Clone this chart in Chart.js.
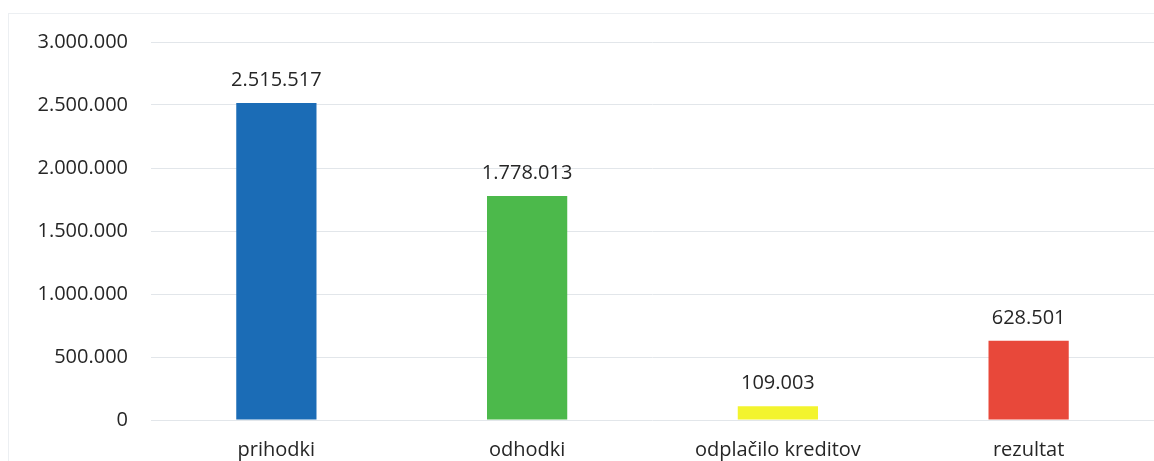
<!DOCTYPE html>
<html><head><meta charset="utf-8">
<script src="https://cdn.jsdelivr.net/npm/chart.js@4"></script>
<style>
html,body{margin:0;padding:0;background:#fff;}
#wrap{position:relative;width:1154px;height:461px;overflow:hidden;}
#frame{position:absolute;left:8px;top:13px;right:-2px;bottom:-2px;border-left:1px solid #eceff2;border-top:1px solid #eceff2;}
canvas{position:absolute;left:0;top:0;}
</style></head><body>
<div id="wrap"><div id="frame"></div><canvas id="c" width="1154" height="461"></canvas></div>
<script>
const categories = ["prihodki", "odhodki", "odplačilo kreditov", "rezultat"];
const values = [2515517, 1778013, 109003, 628501];
const barColors = ["#1b6cb6", "#4cb94b", "#f3f42e", "#e8483a"];
const tickValues = [0, 500000, 1000000, 1500000, 2000000, 2500000, 3000000];

function fmt(v){ return String(Math.round(v)).replace(/\B(?=(\d{3})+(?!\d))/g, "."); }

const FONT = '"Open Sans", sans-serif';
const labelPlugin = {
  id: 'valueLabels',
  afterDatasetsDraw(chart){
    const ctx = chart.ctx;
    const meta = chart.getDatasetMeta(0);
    ctx.save();
    ctx.font = '20px ' + FONT;
    ctx.fillStyle = '#262626';
    ctx.textAlign = 'center';
    ctx.textBaseline = 'alphabetic';
    meta.data.forEach((bar, i) => {
      ctx.fillText(fmt(values[i]), bar.x, bar.y - 17);
    });
    ctx.restore();
  }
};

new Chart(document.getElementById('c'), {
  type: 'bar',
  data: { labels: categories, datasets: [{ data: values, backgroundColor: barColors, categoryPercentage: 1, barPercentage: 0.32 }] },
  options: {
    responsive: false, animation: false,
    layout: { padding: { left: 0, right: 0, top: 42, bottom: 0 } },
    plugins: { legend: { display: false }, tooltip: { enabled: false } },
    scales: {
      y: {
        min: 0, max: 3000000,
        afterBuildTicks(axis){ axis.ticks = tickValues.map(v => ({ value: v })); },
        afterFit(axis){ axis.width = 151; },
        ticks: { callback: v => fmt(v), color: '#262626', font: { family: FONT, size: 20 }, padding: 23 },
        grid: { color: '#e2e6ea', drawTicks: false },
        border: { display: false }
      },
      x: {
        afterFit(axis){ axis.height = 41; },
        ticks: { color: '#262626', font: { family: FONT, size: 20 }, padding: 10 },
        grid: { display: false },
        border: { display: false }
      }
    }
  },
  plugins: [labelPlugin]
});
</script>
</body></html>
